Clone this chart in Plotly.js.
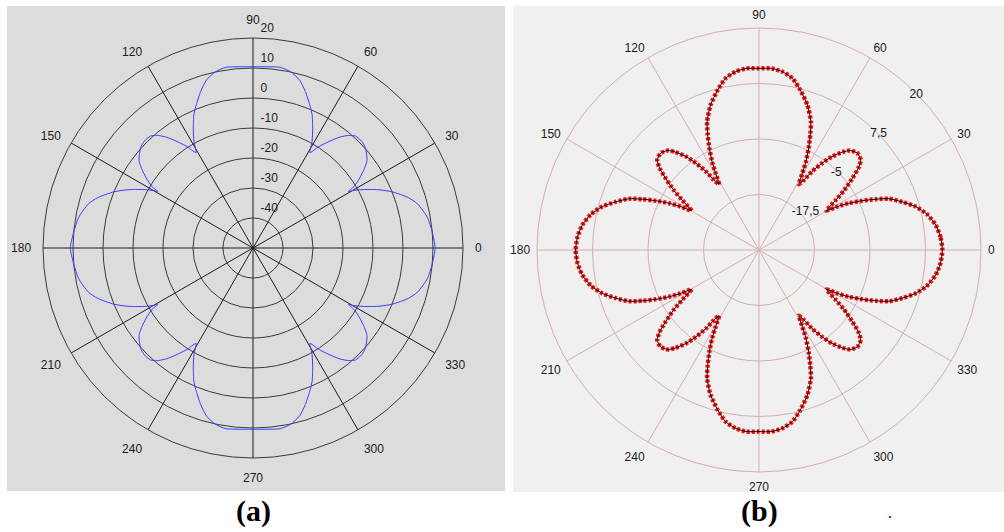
<!DOCTYPE html>
<html>
<head>
<meta charset="utf-8">
<script src="https://cdn.plot.ly/plotly-3.0.1.min.js"></script>
<style>html,body{margin:0;padding:0;background:#fff;}#chart{width:1004px;height:532px;}</style>
</head>
<body>
<div id="chart"></div>
<script>
// Panel (a): pattern in dB
const thetaA = [0,5,10,15,18,22,25,28,30,30.6,31.3,33,35.5,37.5,41.5,44.5,47.5,49.5,52,54.5,57,58,59.2,61,63.5,66,68,71.5,74.5,78,81.5,85.5,90,
  94.5,98.5,102,105.5,108.5,112,114,116.5,119,120.8,122,123,125.5,128,130.5,132.5,135.5,138.5,142.5,144.5,147,148.7,149.4,150,152,155,158,162,165,170,175,180,
  185,190,195,198,202,205,208,210,210.6,211.3,213,215.5,217.5,221.5,224.5,227.5,229.5,232,234.5,237,238,239.2,241,243.5,246,248,251.5,254.5,258,261.5,265.5,270,
  274.5,278.5,282,285.5,288.5,292,294,296.5,299,300.8,302,303,305.5,308,310.5,312.5,315.5,318.5,322.5,324.5,327,328.7,329.4,330,332,335,338,342,345,350,355,360];
const rA = [10.7,10.0,9.0,6.8,4.4,0.0,-4.0,-8.5,-11.8,-13.2,-10.6,-7.8,-4.4,-2.1,0.1,0.8,0.6,-0.6,-3.1,-6.4,-9.7,-11.5,-13.0,-9.4,-5.4,-1.5,0.9,5.0,8.1,10.1,10.9,10.6,10.4,
  10.6,10.9,10.1,8.1,5.0,0.9,-1.5,-5.4,-9.4,-13.0,-11.5,-9.7,-6.4,-3.1,-0.6,0.6,0.8,0.1,-2.1,-4.4,-7.8,-10.6,-13.2,-11.8,-8.5,-4.0,0.0,4.4,6.8,9.0,10.0,10.9,
  10.0,9.0,6.8,4.4,0.0,-4.0,-8.5,-11.8,-13.2,-10.6,-7.8,-4.4,-2.1,0.1,0.8,0.6,-0.6,-3.1,-6.4,-9.7,-11.5,-13.0,-9.4,-5.4,-1.5,0.9,5.0,8.1,10.1,10.9,10.6,10.4,
  10.6,10.9,10.1,8.1,5.0,0.9,-1.5,-5.4,-9.4,-13.0,-11.5,-9.7,-6.4,-3.1,-0.6,0.6,0.8,0.1,-2.1,-4.4,-7.8,-10.6,-13.2,-11.8,-8.5,-4.0,0.0,4.4,6.8,9.0,10.0,10.7];

// Panel (b): pattern in dB
const thetaB = [0,4,8,12,15.5,18.5,21.5,23.5,25.5,27.5,29,30.2,33,35,37.5,39.5,41.5,44.5,47.5,49.5,52,54,56,57.3,58.7,60.5,62,64,66,68,71.5,75.5,79,82.5,86,90,
  94,97.5,101,104.5,108.5,112,114,116,118,119.5,121.3,122.7,124,126,128,130.5,132.5,135.5,138.5,140.5,142.5,145,147,149.8,151,152.5,154.5,156.5,158.5,161.5,164.5,168,172,176,180,
  184,188,192,195.5,198.5,201.5,203.5,205.5,207.5,209,210.2,213,215,217.5,219.5,221.5,224.5,227.5,229.5,232,234,236,237.3,238.7,240.5,242,244,246,248,251.5,255.5,259,262.5,266,270,
  274,277.5,281,284.5,288.5,292,294,296,298,299.5,301.3,302.7,304,306,308,310.5,312.5,315.5,318.5,320.5,322.5,325,327,329.8,331,332.5,334.5,336.5,338.5,341.5,344.5,348,352,356,360];
const rB = [11.3,11.0,10.2,8.7,6.6,4.1,1.5,-1.3,-4.2,-7.2,-9.8,-12.4,-9.4,-6.6,-3.5,-1.0,0.6,1.1,0.4,-1.0,-3.3,-5.8,-8.7,-11.3,-12.7,-10.2,-7.5,-4.5,-1.6,1.2,4.4,7.2,9.4,10.5,11.0,10.9,
  11.0,10.5,9.4,7.2,4.4,1.2,-1.6,-4.5,-7.5,-10.2,-12.7,-11.3,-8.7,-5.8,-3.3,-1.0,0.4,1.1,0.6,-1.0,-3.5,-6.6,-9.4,-12.4,-9.8,-7.2,-4.2,-1.3,1.5,4.1,6.6,8.7,10.2,11.0,11.3,
  11.0,10.2,8.7,6.6,4.1,1.5,-1.3,-4.2,-7.2,-9.8,-12.4,-9.4,-6.6,-3.5,-1.0,0.6,1.1,0.4,-1.0,-3.3,-5.8,-8.7,-11.3,-12.7,-10.2,-7.5,-4.5,-1.6,1.2,4.4,7.2,9.4,10.5,11.0,10.9,
  11.0,10.5,9.4,7.2,4.4,1.2,-1.6,-4.5,-7.5,-10.2,-12.7,-11.3,-8.7,-5.8,-3.3,-1.0,0.4,1.1,0.6,-1.0,-3.5,-6.6,-9.4,-12.4,-9.8,-7.2,-4.2,-1.3,1.5,4.1,6.6,8.7,10.2,11.0,11.3];

const angTicks = [0,30,60,90,120,150,180,210,240,270,300,330];
const angLabels = ['0','30','60','90','120','150','180','210','240','270','300','330'];
const radTicksA = [-40,-30,-20,-10,0,10,20];
const radLabelsA = ['-40','-30','-20','-10','0','10','20'];
const radTicksB = [-17.5,-5,7.5,20];
const radLabelsB = ['-17,5','-5','7,5','20'];
const captions = ['(a)','(b)'];

const W = 1004, H = 532;
const px = v => v / W, py = v => (H - v) / H;

const traces = [
  {type:'scatterpolar', subplot:'polar', theta:thetaA, r:rA, mode:'lines',
   line:{color:'#3c3cff', width:1, shape:'spline', smoothing:0.6}, hoverinfo:'skip'},
  {type:'scatterpolar', subplot:'polar2', theta:thetaB, r:rB, mode:'lines',
   line:{color:'#ff1010', width:4.5, dash:'3px,2px', shape:'spline', smoothing:0.6}, hoverinfo:'skip'},
  {type:'scatterpolar', subplot:'polar2', theta:thetaB, r:rB, mode:'lines',
   line:{color:'#000000', width:1, shape:'spline', smoothing:0.6}, hoverinfo:'skip'},
  // label-only overlays for the radial tick labels
  {type:'scatterpolar', subplot:'polar3', theta:[], r:[], mode:'lines', hoverinfo:'skip'},
  {type:'scatterpolar', subplot:'polar4', theta:[], r:[], mode:'lines', hoverinfo:'skip'}
];

const fontA = {family:'Liberation Sans, Arial, sans-serif', size:12, color:'#1a1a1a'};

function dom(cx, cy, r){ return {x:[px(cx-r), px(cx+r)], y:[py(cy+r), py(cy-r)]}; }

const angCommon = {rotation:0, direction:'counterclockwise', tickmode:'array', tickvals:angTicks, ticktext:angLabels,
  gridwidth:1, showline:true, linewidth:1, ticks:'outside', tickcolor:'rgba(0,0,0,0)', tickfont:fontA};

const layout = {
  width:W, height:H, margin:{l:0,r:0,t:0,b:0},
  paper_bgcolor:'#ffffff', showlegend:false,
  font: fontA,
  shapes:[
    {type:'rect', xref:'paper', yref:'paper', x0:px(7), x1:px(505), y0:py(491), y1:py(6),
     fillcolor:'#dcdcdc', line:{width:0}, layer:'below'},
    {type:'rect', xref:'paper', yref:'paper', x0:px(513), x1:px(1004), y0:py(492), y1:py(6),
     fillcolor:'#f0f0f0', line:{width:0}, layer:'below'},
    {type:'rect', xref:'paper', yref:'paper', x0:px(889), x1:px(891), y0:py(518), y1:py(516),
     fillcolor:'#ff0000', line:{width:0}}
  ],
  polar:{
    domain:dom(253, 248, 210),
    bgcolor:'rgba(0,0,0,0)',
    radialaxis:{range:[-50,20], tickmode:'array', tickvals:radTicksA, ticktext:radLabelsA,
      angle:90, showticklabels:false, showline:false, ticks:'', gridcolor:'#3a3a3a', gridwidth:1},
    angularaxis:Object.assign({}, angCommon, {gridcolor:'#1a1a1a', linecolor:'#3a3a3a', ticklen:9})
  },
  polar2:{
    domain:dom(759, 250, 222),
    bgcolor:'rgba(0,0,0,0)',
    radialaxis:{range:[-30,20], tickmode:'array', tickvals:radTicksB, ticktext:radLabelsB,
      angle:45, showticklabels:false, showline:false, ticks:'', gridcolor:'#d6aeae', gridwidth:1},
    angularaxis:Object.assign({}, angCommon, {gridcolor:'#d6aeae', linecolor:'#d6aeae', ticklen:4})
  },
  polar3:{
    domain:dom(253+7, 248-10, 210),
    bgcolor:'rgba(0,0,0,0)',
    radialaxis:{range:[-50,20], tickmode:'array', tickvals:radTicksA, ticktext:radLabelsA,
      angle:90, tickangle:90, showgrid:false, showline:false, ticks:'', tickfont:fontA},
    angularaxis:{visible:false, showgrid:false}
  },
  polar4:{
    domain:dom(759-11, 250-6, 222),
    bgcolor:'rgba(0,0,0,0)',
    radialaxis:{range:[-30,20], tickmode:'array', tickvals:radTicksB, ticktext:radLabelsB,
      angle:45, tickangle:45, showgrid:false, showline:false, ticks:'', tickfont:fontA},
    angularaxis:{visible:false, showgrid:false}
  },
  annotations:[
    {xref:'paper', yref:'paper', x:px(253), y:py(511), text:captions[0], showarrow:false,
     font:{family:'Liberation Serif, Times New Roman, serif', size:30, color:'#000', weight:'bold'}, xanchor:'center', yanchor:'middle'},
    {xref:'paper', yref:'paper', x:px(759), y:py(511), text:captions[1], showarrow:false,
     font:{family:'Liberation Serif, Times New Roman, serif', size:30, color:'#000', weight:'bold'}, xanchor:'center', yanchor:'middle'}
  ]
};

Plotly.newPlot('chart', traces, layout, {staticPlot:true, displayModeBar:false});
</script>
</body>
</html>
